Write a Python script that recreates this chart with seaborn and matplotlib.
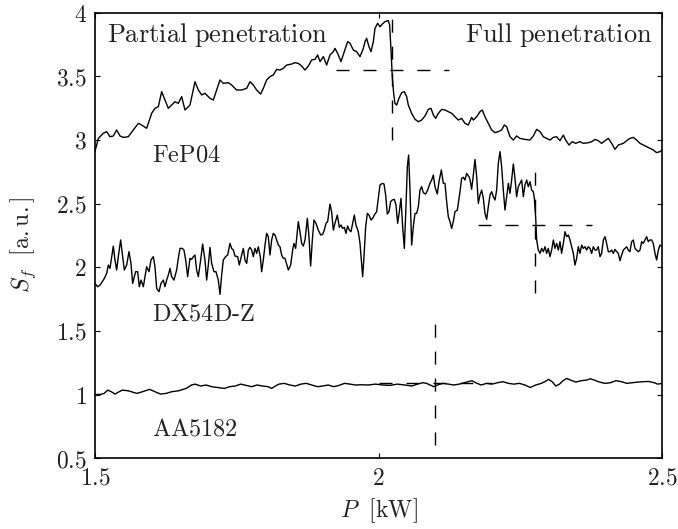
import matplotlib
matplotlib.use("Agg")
import matplotlib.pyplot as plt
from matplotlib.ticker import FixedLocator, FuncFormatter
import pandas as pd
import seaborn as sns

# Laser power P [kW] and signal feature S_f [a.u.] for three sheet materials
fep04 = [
    (1.5000, 2.910), (1.5059, 3.012), (1.5147, 3.052), (1.5206, 3.065), (1.5264, 3.025),
    (1.5323, 3.031), (1.5382, 3.078), (1.5441, 3.031), (1.5499, 3.020), (1.5587, 3.025),
    (1.5675, 3.078), (1.5764, 3.130), (1.5822, 3.117), (1.5910, 3.091), (1.5999, 3.209),
    (1.6057, 3.248), (1.6116, 3.261), (1.6175, 3.379), (1.6234, 3.313), (1.6292, 3.248),
    (1.6351, 3.274), (1.6410, 3.300), (1.6468, 3.287), (1.6527, 3.340), (1.6586, 3.235),
    (1.6674, 3.274), (1.6762, 3.457), (1.6821, 3.392), (1.6880, 3.353), (1.6938, 3.366),
    (1.7026, 3.327), (1.7085, 3.313), (1.7144, 3.392), (1.7203, 3.471), (1.7261, 3.444),
    (1.7350, 3.450), (1.7408, 3.431), (1.7496, 3.392), (1.7584, 3.392), (1.7673, 3.405),
    (1.7731, 3.457), (1.7790, 3.431), (1.7849, 3.392), (1.7919, 3.360), (1.7966, 3.405),
    (1.8025, 3.471), (1.8084, 3.497), (1.8142, 3.510), (1.8201, 3.554), (1.8260, 3.549),
    (1.8319, 3.562), (1.8377, 3.588), (1.8466, 3.596), (1.8524, 3.607), (1.8583, 3.601),
    (1.8642, 3.580), (1.8700, 3.549), (1.8759, 3.580), (1.8818, 3.628), (1.8877, 3.633),
    (1.8924, 3.667), (1.8965, 3.615), (1.9024, 3.654), (1.9082, 3.588), (1.9141, 3.667),
    (1.9200, 3.693), (1.9229, 3.719), (1.9276, 3.680), (1.9335, 3.615), (1.9394, 3.693),
    (1.9452, 3.772), (1.9494, 3.759), (1.9552, 3.706), (1.9611, 3.693), (1.9670, 3.654),
    (1.9729, 3.719), (1.9758, 3.772), (1.9787, 3.798), (1.9828, 3.732), (1.9864, 3.693),
    (1.9905, 3.772), (1.9934, 3.876), (1.9981, 3.916), (2.0022, 3.889), (2.0063, 3.910),
    (2.0110, 3.929), (2.0169, 3.937), (2.0192, 3.903), (2.0216, 3.706), (2.0239, 3.497),
    (2.0263, 3.366), (2.0286, 3.287), (2.0316, 3.274), (2.0357, 3.327), (2.0404, 3.371),
    (2.0451, 3.379), (2.0492, 3.340), (2.0521, 3.274), (2.0580, 3.209), (2.0639, 3.162),
    (2.0698, 3.143), (2.0756, 3.156), (2.0815, 3.188), (2.0874, 3.240), (2.0921, 3.248),
    (2.0962, 3.196), (2.1003, 3.169), (2.1050, 3.209), (2.1109, 3.240), (2.1167, 3.235),
    (2.1226, 3.222), (2.1285, 3.209), (2.1344, 3.182), (2.1402, 3.156), (2.1461, 3.169),
    (2.1520, 3.130), (2.1579, 3.117), (2.1637, 3.177), (2.1667, 3.156), (2.1726, 3.182),
    (2.1784, 3.222), (2.1825, 3.235), (2.1872, 3.182), (2.1931, 3.130), (2.1990, 3.078),
    (2.2049, 3.057), (2.2107, 3.065), (2.2166, 3.078), (2.2213, 3.117), (2.2254, 3.104),
    (2.2313, 3.025), (2.2372, 2.999), (2.2430, 3.031), (2.2489, 3.012), (2.2577, 3.004),
    (2.2665, 2.999), (2.2724, 3.031), (2.2783, 3.083), (2.2842, 3.065), (2.2900, 3.025),
    (2.2959, 3.012), (2.3018, 2.999), (2.3076, 3.020), (2.3135, 3.025), (2.3194, 2.994),
    (2.3253, 3.038), (2.3294, 2.999), (2.3353, 2.960), (2.3411, 2.986), (2.3470, 2.973),
    (2.3546, 2.986), (2.3605, 2.973), (2.3693, 2.978), (2.3752, 2.986), (2.3811, 3.004),
    (2.3869, 2.994), (2.3928, 2.973), (2.3987, 2.994), (2.4046, 3.012), (2.4104, 2.973),
    (2.4163, 2.926), (2.4222, 2.960), (2.4310, 2.973), (2.4369, 2.994), (2.4427, 3.012),
    (2.4486, 3.020), (2.4545, 2.999), (2.4604, 2.973), (2.4662, 2.960), (2.4721, 2.947),
    (2.4780, 2.934), (2.4838, 2.921), (2.4897, 2.900), (2.4956, 2.908), (2.5000, 2.921),
]

dx54dz = [
    (1.5000, 1.873), (1.5047, 1.847), (1.5088, 1.860), (1.5129, 1.886), (1.5164, 1.912),
    (1.5206, 1.952), (1.5235, 2.017), (1.5264, 1.991), (1.5294, 2.083), (1.5323, 2.166),
    (1.5352, 2.057), (1.5382, 1.978), (1.5411, 2.083), (1.5452, 2.214), (1.5488, 2.083),
    (1.5517, 1.978), (1.5558, 2.017), (1.5599, 2.122), (1.5634, 2.030), (1.5664, 1.873),
    (1.5693, 1.926), (1.5717, 1.965), (1.5752, 1.965), (1.5781, 1.847), (1.5811, 1.899),
    (1.5852, 1.847), (1.5881, 1.926), (1.5910, 2.004), (1.5952, 1.965), (1.5987, 2.057),
    (1.6028, 2.083), (1.6057, 2.004), (1.6087, 1.834), (1.6128, 1.808), (1.6163, 1.873),
    (1.6204, 1.899), (1.6233, 1.847), (1.6263, 1.899), (1.6292, 1.939), (1.6322, 1.991),
    (1.6351, 1.926), (1.6392, 1.899), (1.6439, 1.978), (1.6468, 2.070), (1.6498, 2.148),
    (1.6539, 2.148), (1.6568, 2.135), (1.6598, 2.057), (1.6633, 1.926), (1.6674, 2.070),
    (1.6703, 2.062), (1.6733, 2.083), (1.6762, 2.096), (1.6791, 1.978), (1.6821, 1.926),
    (1.6862, 2.057), (1.6897, 2.182), (1.6938, 2.057), (1.6968, 1.899), (1.6997, 2.017),
    (1.7026, 2.156), (1.7056, 2.030), (1.7097, 1.965), (1.7132, 1.965), (1.7173, 1.899),
    (1.7203, 1.787), (1.7232, 1.939), (1.7261, 2.057), (1.7302, 2.083), (1.7338, 2.096),
    (1.7379, 2.187), (1.7408, 2.148), (1.7438, 2.135), (1.7467, 2.088), (1.7514, 2.083),
    (1.7543, 2.017), (1.7584, 2.096), (1.7614, 2.148), (1.7643, 2.057), (1.7673, 2.030),
    (1.7702, 2.135), (1.7731, 2.156), (1.7761, 2.135), (1.7790, 2.083), (1.7819, 2.148),
    (1.7849, 2.109), (1.7878, 2.161), (1.7913, 2.083), (1.7937, 1.965), (1.7966, 2.057),
    (1.7996, 2.174), (1.8025, 2.266), (1.8054, 2.240), (1.8084, 2.096), (1.8113, 2.214),
    (1.8142, 2.266), (1.8172, 2.253), (1.8201, 2.214), (1.8231, 2.174), (1.8260, 2.161),
    (1.8289, 2.096), (1.8319, 2.070), (1.8348, 2.070), (1.8407, 1.978), (1.8448, 2.017),
    (1.8483, 2.135), (1.8507, 2.187), (1.8536, 2.148), (1.8583, 2.358), (1.8612, 2.279),
    (1.8642, 2.187), (1.8671, 2.166), (1.8701, 2.214), (1.8742, 2.384), (1.8771, 2.240),
    (1.8800, 2.009), (1.8830, 2.214), (1.8859, 2.371), (1.8894, 2.345), (1.8935, 2.292),
    (1.8977, 2.253), (1.9012, 2.258), (1.9041, 2.292), (1.9071, 2.345), (1.9100, 2.358),
    (1.9141, 2.496), (1.9170, 2.436), (1.9200, 2.292), (1.9229, 2.345), (1.9270, 2.410),
    (1.9306, 2.313), (1.9335, 2.332), (1.9364, 2.305), (1.9394, 2.313), (1.9423, 2.266),
    (1.9452, 2.324), (1.9482, 2.292), (1.9511, 2.279), (1.9540, 2.345), (1.9570, 2.410),
    (1.9599, 2.332), (1.9640, 2.279), (1.9670, 2.187), (1.9693, 2.057), (1.9717, 1.926),
    (1.9740, 2.083), (1.9770, 2.318), (1.9799, 2.423), (1.9828, 2.410), (1.9864, 2.371),
    (1.9893, 2.384), (1.9922, 2.410), (1.9963, 2.436), (1.9993, 2.541), (2.0022, 2.646),
    (2.0063, 2.659), (2.0093, 2.654), (2.0122, 2.567), (2.0151, 2.418), (2.0181, 2.436),
    (2.0210, 2.515), (2.0239, 2.528), (2.0275, 2.533), (2.0304, 2.489), (2.0333, 2.345),
    (2.0363, 2.436), (2.0392, 2.541), (2.0422, 2.318), (2.0451, 2.148), (2.0480, 2.476),
    (2.0504, 2.790), (2.0527, 2.881), (2.0551, 2.606), (2.0580, 2.174), (2.0609, 2.318),
    (2.0639, 2.423), (2.0668, 2.423), (2.0698, 2.476), (2.0727, 2.606), (2.0756, 2.633),
    (2.0786, 2.585), (2.0827, 2.575), (2.0862, 2.606), (2.0903, 2.659), (2.0933, 2.685),
    (2.0962, 2.724), (2.0991, 2.633), (2.1032, 2.575), (2.1062, 2.672), (2.1103, 2.764),
    (2.1138, 2.659), (2.1167, 2.659), (2.1197, 2.515), (2.1226, 2.397), (2.1256, 2.358),
    (2.1285, 2.305), (2.1314, 2.358), (2.1344, 2.436), (2.1385, 2.449), (2.1432, 2.593),
    (2.1461, 2.698), (2.1491, 2.706), (2.1520, 2.685), (2.1549, 2.737), (2.1590, 2.711),
    (2.1608, 2.690), (2.1637, 2.612), (2.1667, 2.724), (2.1696, 2.847), (2.1726, 2.711),
    (2.1755, 2.502), (2.1784, 2.567), (2.1814, 2.606), (2.1843, 2.541), (2.1872, 2.423),
    (2.1902, 2.376), (2.1931, 2.476), (2.1961, 2.567), (2.1990, 2.593), (2.2019, 2.554),
    (2.2049, 2.528), (2.2078, 2.606), (2.2107, 2.816), (2.2137, 2.908), (2.2166, 2.790),
    (2.2195, 2.606), (2.2225, 2.449), (2.2254, 2.554), (2.2284, 2.659), (2.2313, 2.580),
    (2.2342, 2.685), (2.2372, 2.811), (2.2401, 2.698), (2.2430, 2.554), (2.2460, 2.633),
    (2.2489, 2.659), (2.2519, 2.685), (2.2548, 2.554), (2.2577, 2.646), (2.2607, 2.685),
    (2.2636, 2.633), (2.2665, 2.672), (2.2695, 2.606), (2.2724, 2.593), (2.2742, 2.541),
    (2.2765, 2.397), (2.2783, 2.214), (2.2812, 2.135), (2.2842, 2.109), (2.2871, 2.148),
    (2.2900, 2.122), (2.2930, 2.161), (2.2959, 2.109), (2.2988, 2.148), (2.3018, 2.083),
    (2.3047, 2.135), (2.3077, 2.214), (2.3106, 2.148), (2.3135, 2.187), (2.3165, 2.135),
    (2.3194, 2.201), (2.3223, 2.109), (2.3253, 2.187), (2.3282, 2.279), (2.3312, 2.240),
    (2.3341, 2.253), (2.3370, 2.214), (2.3400, 2.161), (2.3429, 2.109), (2.3458, 2.017),
    (2.3488, 2.070), (2.3517, 2.161), (2.3546, 2.109), (2.3576, 2.174), (2.3605, 2.148),
    (2.3635, 2.161), (2.3664, 2.135), (2.3693, 2.161), (2.3723, 2.148), (2.3752, 2.109),
    (2.3781, 2.161), (2.3811, 2.135), (2.3840, 2.135), (2.3869, 2.161), (2.3899, 2.083),
    (2.3928, 2.109), (2.3958, 2.214), (2.3987, 2.240), (2.4016, 2.187), (2.4046, 2.122),
    (2.4075, 2.122), (2.4104, 2.135), (2.4134, 2.109), (2.4163, 2.140), (2.4193, 2.122),
    (2.4222, 2.109), (2.4251, 2.051), (2.4281, 2.096), (2.4310, 2.135), (2.4339, 2.148),
    (2.4369, 2.161), (2.4398, 2.135), (2.4427, 2.122), (2.4457, 2.201), (2.4486, 2.214),
    (2.4516, 2.148), (2.4545, 2.135), (2.4574, 2.122), (2.4604, 2.135), (2.4633, 2.201),
    (2.4662, 2.187), (2.4692, 2.214), (2.4721, 2.240), (2.4750, 2.201), (2.4780, 2.214),
    (2.4809, 2.214), (2.4838, 2.187), (2.4868, 2.109), (2.4897, 2.057), (2.4927, 2.135),
    (2.4956, 2.174), (2.5000, 2.161),
]

aa5182 = [
    (1.5000, 1.001), (1.5096, 1.001), (1.5160, 1.009), (1.5225, 1.035), (1.5289, 1.022),
    (1.5353, 1.004), (1.5417, 1.020), (1.5481, 1.035), (1.5578, 1.030), (1.5642, 1.022),
    (1.5738, 1.009), (1.5835, 1.022), (1.5963, 1.041), (1.6059, 1.022), (1.6155, 1.004),
    (1.6252, 1.009), (1.6348, 1.022), (1.6476, 1.030), (1.6605, 1.048), (1.6701, 1.075),
    (1.6765, 1.082), (1.6862, 1.067), (1.6958, 1.075), (1.7054, 1.062), (1.7150, 1.056),
    (1.7279, 1.048), (1.7375, 1.062), (1.7471, 1.067), (1.7568, 1.082), (1.7664, 1.072),
    (1.7760, 1.062), (1.7857, 1.075), (1.7953, 1.067), (1.8049, 1.062), (1.8113, 1.048),
    (1.8178, 1.067), (1.8242, 1.082), (1.8338, 1.088), (1.8434, 1.075), (1.8531, 1.067),
    (1.8627, 1.082), (1.8723, 1.088), (1.8819, 1.075), (1.8916, 1.062), (1.9012, 1.067),
    (1.9108, 1.075), (1.9205, 1.062), (1.9301, 1.072), (1.9397, 1.088), (1.9494, 1.082),
    (1.9590, 1.075), (1.9686, 1.077), (1.9814, 1.075), (1.9943, 1.082), (2.0071, 1.075),
    (2.0200, 1.072), (2.0328, 1.082), (2.0456, 1.075), (2.0585, 1.067), (2.0681, 1.082),
    (2.0777, 1.093), (2.0842, 1.088), (2.0906, 1.075), (2.0970, 1.062), (2.1034, 1.075),
    (2.1130, 1.088), (2.1227, 1.082), (2.1323, 1.075), (2.1419, 1.082), (2.1548, 1.098),
    (2.1644, 1.109), (2.1708, 1.093), (2.1804, 1.075), (2.1901, 1.088), (2.1997, 1.082),
    (2.2093, 1.093), (2.2190, 1.101), (2.2286, 1.088), (2.2382, 1.082), (2.2478, 1.088),
    (2.2575, 1.075), (2.2671, 1.056), (2.2767, 1.075), (2.2864, 1.088), (2.2928, 1.101),
    (2.2992, 1.119), (2.3056, 1.101), (2.3120, 1.067), (2.3185, 1.082), (2.3249, 1.109),
    (2.3313, 1.127), (2.3377, 1.114), (2.3474, 1.098), (2.3570, 1.109), (2.3666, 1.114),
    (2.3730, 1.124), (2.3795, 1.114), (2.3891, 1.098), (2.3987, 1.088), (2.4083, 1.093),
    (2.4180, 1.109), (2.4276, 1.101), (2.4372, 1.088), (2.4468, 1.093), (2.4565, 1.098),
    (2.4661, 1.101), (2.4757, 1.103), (2.4853, 1.093), (2.4918, 1.082), (2.5001, 1.088),
]

materials = ["FeP04", "DX54D-Z", "AA5182"]
# label anchor (P, S_f) for each material name
label_power = [1.600, 1.600, 1.600]
label_level = [2.833, 1.580, 0.682]

# full-penetration threshold markers: crossing power, signal level, vertical extent
threshold_power = [2.024, 2.275, 2.100]
threshold_level = [3.550, 2.330, 1.090]
threshold_low = [3.000, 1.800, 0.600]
threshold_high = [4.050, 2.770, 1.570]
threshold_halfwidth = 0.1

x_ticks = [1.5, 2.0, 2.5]
y_ticks = [0.5, 1.0, 1.5, 2.0, 2.5, 3.0, 3.5, 4.0]

frames = []
for name, series in zip(materials, [fep04, dx54dz, aa5182]):
    p, s = zip(*series)
    frames.append(pd.DataFrame({"P": p, "Sf": s, "material": name}))
df = pd.concat(frames, ignore_index=True)

sns.set_style("ticks")
plt.rcParams["mathtext.fontset"] = "cm"
plt.rcParams["font.family"] = ["DejaVu Serif"]
plt.rcParams["lines.scale_dashes"] = False
plt.rcParams["axes.linewidth"] = 1.2

fig = plt.figure(figsize=(6.78, 5.29), dpi=100)
ax = fig.add_axes([0.1401, 0.1338, 0.8370, 0.8424])

for name in materials:
    sns.lineplot(data=df[df["material"] == name], x="P", y="Sf", ax=ax,
                 color="black", linewidth=1.0, estimator=None, sort=False)

dash = (0, (9.4, 10.0))
for xp, yl, lo, hi in zip(threshold_power, threshold_level, threshold_low, threshold_high):
    ax.plot([xp, xp], [lo, hi], color="black", linewidth=1.0, linestyle=dash)
    ax.plot([xp - threshold_halfwidth, xp + threshold_halfwidth], [yl, yl],
            color="black", linewidth=1.0, linestyle=dash)

for name, xp, yl in zip(materials, label_power, label_level):
    ax.text(xp, yl, r"$\mathrm{%s}$" % name.replace("-", "\\text{-}"),
            fontsize=17.5, ha="left", va="baseline", color="#222222")

ax.text(1.5206, 3.771, r"$\mathrm{Partial\ penetration}$", fontsize=19,
        ha="left", va="baseline", color="#222222")
ax.text(2.4833, 3.771, r"$\mathrm{Full\ penetration}$", fontsize=19,
        ha="right", va="baseline", color="#222222")

ax.set_xlim(1.5, 2.5)
ax.set_ylim(0.5, 4.0)
ax.xaxis.set_major_locator(FixedLocator(x_ticks))
ax.yaxis.set_major_locator(FixedLocator(y_ticks))
fmt = FuncFormatter(lambda v, _: "$%g$" % v)
ax.xaxis.set_major_formatter(fmt)
ax.yaxis.set_major_formatter(fmt)
ax.tick_params(direction="in", length=3.6, width=0.8, top=True, right=True,
               labelsize=17, pad=6, colors="black", labelcolor="#222222")

ax.set_xlabel(r"$P\ \ [\mathrm{kW}]$", fontsize=17, color="#222222")
ax.set_ylabel(r"$S_f\ \ [\mathrm{a.u.}]$", fontsize=17, color="#222222")
ax.xaxis.set_label_coords(0.5, -0.085)
ax.yaxis.set_label_coords(-0.1, 0.48)

for side in ax.spines.values():
    side.set_visible(True)
    side.set_color("black")

fig.savefig("out.png", dpi=100)
